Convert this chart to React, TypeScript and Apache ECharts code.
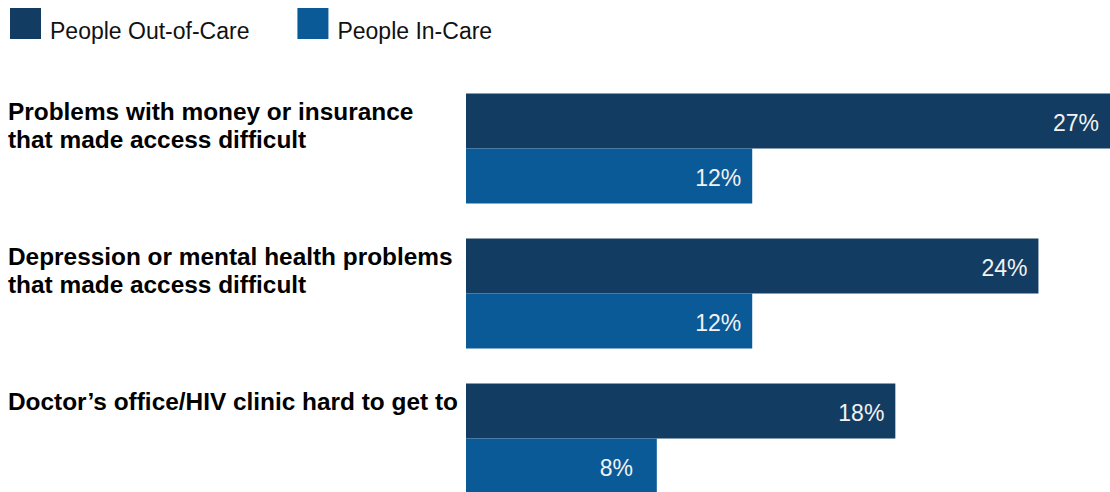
import React, { useEffect, useRef } from 'react';
import * as echarts from 'echarts';

const categories = [
  'Problems with money or insurance\nthat made access difficult',
  'Depression or mental health problems\nthat made access difficult',
  'Doctor’s office/HIV clinic hard to get to',
];
const seriesNames = ['People Out-of-Care', 'People In-Care'];
const outOfCare = [27, 24, 18];
const inCare = [12, 12, 8];
const colors = ['#133C62', '#0A5A98'];

export default function App() {
  const ref = useRef<HTMLDivElement>(null);
  useEffect(() => {
    const chart = echarts.init(ref.current!, null, { renderer: 'svg' });
    const font = '"Liberation Sans", Arial, sans-serif';
    const barW = 55;
    const valueLabel = {
      show: true,
      position: 'insideRight',
      distance: 10,
      offset: [0, 2],
      formatter: '{v|{c}%}',
      rich: {
        v: { width: 47, align: 'left', fontSize: 23, color: '#F2F2F2', fontFamily: font },
      },
    };
    chart.setOption({
      animation: false,
      legend: {
        data: seriesNames,
        left: 10,
        top: 8,
        padding: 0,
        icon: 'path://M0,0L31,0L31,31L0,31Z M0,44.95L0.05,44.95L0.05,45L0,45Z',
        itemWidth: 31,
        itemHeight: 45,
        itemGap: 48,
        selectedMode: false,
        textStyle: { fontSize: 23, color: '#111', fontFamily: font, padding: [0, 0, 0, 4] },
      },
      grid: { left: 466, right: 0, top: 76, bottom: 0 },
      xAxis: { type: 'value', min: 0, max: 27, show: false },
      yAxis: {
        type: 'category',
        data: categories,
        inverse: true,
        axisLine: { show: false },
        axisTick: { show: false },
        axisLabel: { show: false },
      },
      series: [
        {
          name: seriesNames[0],
          type: 'bar',
          data: outOfCare,
          barWidth: barW,
          barGap: '0%',
          itemStyle: { color: colors[0] },
          label: valueLabel,
        },
        {
          name: seriesNames[1],
          type: 'bar',
          data: inCare,
          barWidth: barW,
          barGap: '0%',
          itemStyle: { color: colors[1] },
          label: valueLabel,
        },
      ],
    });
    const graphics = categories.map((c, i) => {
      const cy = chart.convertToPixel({ yAxisIndex: 0 }, i) as number;
      return {
        type: 'text',
        x: 8,
        y: cy - barW + 4,
        style: {
          text: c,
          fontSize: 24.4,
          fontWeight: 'bold',
          fontFamily: font,
          fill: '#000',
          lineHeight: 28,
          verticalAlign: 'top',
          align: 'left',
        },
      };
    });
    chart.setOption({ graphic: graphics });
    return () => chart.dispose();
  }, []);
  return (
    <div style={{ position: 'fixed', left: 0, top: 0, width: 1110, height: 492, overflow: 'hidden', background: '#fff' }}>
      <div ref={ref} style={{ width: 1110, height: 511 }} />
    </div>
  );
}
